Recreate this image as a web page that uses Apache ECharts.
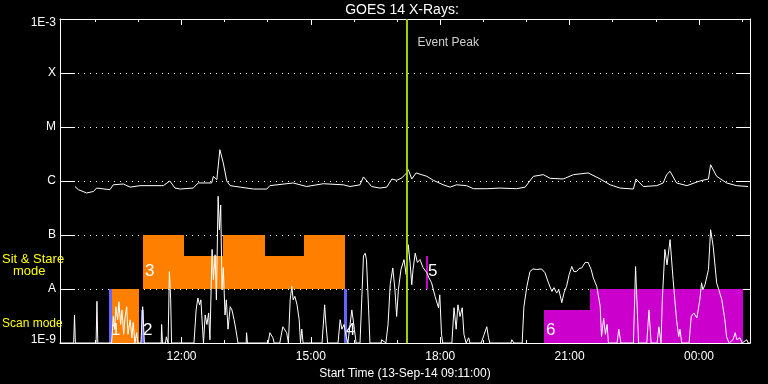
<!DOCTYPE html>
<html><head><meta charset="utf-8">
<script src="https://cdn.jsdelivr.net/npm/echarts@6/dist/echarts.min.js"></script>
<style>html,body{margin:0;padding:0;background:#000}#c{width:768px;height:384px}</style>
</head><body><div id="c"></div>
<script>
// time in hours since 13-Sep-14 00:00, flux in W/m^2
const xMin = 9 + 11 / 60;
const xMax = 25 + 11 / 60;
const majorHours = [12, 15, 18, 21, 24];
const minorHours = [10, 11, 13, 14, 16, 17, 19, 20, 22, 23, 25];
const yLabels = ['1E-9', 'A', 'B', 'C', 'M', 'X', '1E-3'];
const titleText = 'GOES 14 X-Rays:';
const axisName = 'Start Time (13-Sep-14 09:11:00)';
const eventPeak = 17.23;
const eventLabelLevel = 3.7e-4;

// long-wavelength channel
const goesLong = [[9.53,7.9e-7],[9.61,6.9e-7],[9.80,6.0e-7],[9.96,6.4e-7],[10.03,7.4e-7],[10.34,6.9e-7],[10.42,8.5e-7],[10.65,8.8e-7],[10.81,7.7e-7],[11.04,8.2e-7],[11.58,8.2e-7],[11.73,1.0e-6],[11.85,7.4e-7],[11.97,7.1e-7],[12.27,7.4e-7],[12.39,9.2e-7],[12.70,9.2e-7],[12.74,1.22e-6],[12.82,1.06e-6],[12.89,3.8e-6],[12.97,2.15e-6],[13.05,1.0e-6],[13.13,8.2e-7],[13.36,7.7e-7],[13.67,7.1e-7],[13.98,7.1e-7],[14.05,8.2e-7],[14.59,9.2e-7],[14.90,7.9e-7],[15.29,8.9e-7],[15.75,8.5e-7],[15.91,7.9e-7],[16.14,8.5e-7],[16.22,1.19e-6],[16.33,9.4e-7],[16.41,7.9e-7],[16.60,7.4e-7],[16.76,7.7e-7],[16.88,1.09e-6],[16.99,1.03e-6],[17.11,1.14e-6],[17.22,1.41e-6],[17.26,1.62e-6],[17.34,1.09e-6],[17.44,1.41e-6],[17.69,1.22e-6],[17.84,1.03e-6],[18.07,8.5e-7],[18.23,7.7e-7],[18.38,8.5e-7],[18.61,8.2e-7],[18.77,7.2e-7],[19.08,7.2e-7],[19.39,7.4e-7],[19.77,7.2e-7],[19.97,7.7e-7],[20.16,1.22e-6],[20.39,1.31e-6],[20.55,1.12e-6],[20.85,1.09e-6],[21.09,1.31e-6],[21.43,1.41e-6],[21.71,1.09e-6],[21.94,8.5e-7],[22.17,7.4e-7],[22.48,7.1e-7],[22.54,1.09e-6],[22.71,7.9e-7],[23.02,8.2e-7],[23.17,9.2e-7],[23.25,1.31e-6],[23.33,1.51e-6],[23.48,9.2e-7],[23.72,8.2e-7],[24.02,1.0e-6],[24.22,1.09e-6],[24.27,2.0e-6],[24.41,1.22e-6],[24.64,9.2e-7],[24.87,8.2e-7],[25.14,7.9e-7]];

// short-wavelength channel
const goesShort = [[9.18,1e-9],[9.50,1e-9],[9.52,3.3e-9],[9.54,1e-9],
[10.02,1e-9],[10.04,5.9e-9],[10.06,1e-9],
[10.38,1e-9],[10.42,3.1e-9],[10.45,1.8e-9],[10.48,4.7e-9],[10.52,2.7e-9],[10.55,5.8e-9],[10.59,2.2e-9],[10.62,4.1e-9],[10.66,1.45e-9],[10.69,2.9e-9],[10.73,4.7e-9],[10.76,1.45e-9],[10.81,2.7e-9],[10.85,1.25e-9],[10.88,2.4e-9],[10.92,1e-9],[10.96,1.55e-9],[10.99,1e-9],
[11.06,1e-9],[11.10,4.7e-9],[11.12,2.2e-9],[11.14,1e-9],
[11.53,1e-9],[11.54,2.2e-9],[11.56,1e-9],
[11.63,1e-9],[11.65,1.3e-9],[11.69,1e-9],[11.72,2.1e-8],[11.75,6.3e-9],[11.77,1e-9],
[12.29,1e-9],[12.34,4.1e-9],[12.38,6.8e-9],[12.42,5.1e-9],[12.45,6.3e-9],[12.49,1.8e-9],[12.51,1e-9],[12.55,3.3e-9],[12.59,2.2e-9],[12.63,3.6e-9],[12.66,1.15e-9],[12.71,5.4e-8],[12.74,1.5e-8],[12.78,4.3e-8],[12.81,6.3e-9],[12.85,5.2e-7],[12.88,1.25e-7],[12.91,3.6e-7],[12.94,9.7e-9],[12.97,2.5e-8],[13.01,3.3e-9],[13.04,6.3e-9],[13.08,1.8e-9],[13.13,4.7e-9],[13.17,4.1e-9],[13.22,2.7e-9],[13.26,1.8e-9],[13.31,1e-9],
[13.50,1e-9],[13.51,1.55e-9],[13.53,1e-9],
[14.01,1e-9],[14.05,1.55e-9],[14.12,1.25e-9],[14.15,1e-9],
[14.28,1e-9],[14.35,2.0e-9],[14.44,1.55e-9],[14.48,1e-9],[14.52,6.3e-9],[14.56,1.12e-8],[14.59,6.3e-9],[14.63,7.3e-9],[14.68,5.1e-9],[14.73,2.7e-9],[14.76,1e-9],[14.79,1.8e-9],[14.82,1e-9],
[15.26,1e-9],[15.32,5.1e-9],[15.35,2.2e-9],[15.39,1e-9],
[15.63,1e-9],[15.68,2.7e-9],[15.72,1.8e-9],[15.77,2.2e-9],[15.82,1.3e-9],[15.86,1e-9],[15.91,2.2e-9],[15.95,4.1e-9],[16.01,1.8e-9],[16.05,1e-9],
[16.14,1e-9],[16.19,9.7e-9],[16.22,4.1e-8],[16.26,4.6e-8],[16.29,3.5e-8],[16.34,4.1e-9],[16.37,1e-9],
[16.63,1e-9],[16.64,1.15e-9],[16.74,1e-9],[16.79,2.2e-9],[16.84,1.2e-8],[16.90,2.45e-8],[16.95,9.7e-9],[16.99,3.1e-9],[17.03,9.7e-9],[17.09,2.3e-8],[17.16,3.5e-8],[17.21,1.85e-8],[17.26,6.6e-8],[17.30,3.1e-8],[17.34,1.2e-8],[17.37,2.3e-8],[17.42,4.6e-8],[17.47,3.1e-8],[17.53,3.5e-8],[17.60,2.5e-8],[17.69,2.0e-8],[17.74,1.6e-8],[17.80,1.3e-8],[17.88,7.3e-9],[17.96,4.5e-9],[17.99,7.8e-9],[18.03,1.45e-9],[18.06,1e-9],
[18.27,1e-9],[18.32,4.5e-9],[18.37,1.8e-9],[18.41,5.1e-9],[18.46,3.1e-9],[18.51,4.5e-9],[18.55,1.45e-9],[18.60,1e-9],[18.66,1.25e-9],[18.69,1e-9],
[18.95,1e-9],[19.02,1.45e-9],[19.08,2.0e-9],[19.12,1.25e-9],[19.15,1e-9],
[19.64,1e-9],[19.66,1.15e-9],[19.71,1e-9],
[19.90,1e-9],[19.94,4.7e-9],[20.01,1.12e-8],[20.08,2.1e-8],[20.15,2.35e-8],[20.24,2.3e-8],[20.35,2.35e-8],[20.43,2.0e-8],[20.51,1.3e-8],[20.59,9.0e-9],[20.64,1.06e-8],[20.70,8.4e-9],[20.75,9.7e-9],[20.82,5.6e-9],[20.87,8.5e-9],[20.93,1.12e-8],[20.99,1.85e-8],[21.05,2.6e-8],[21.10,2.1e-8],[21.16,2.1e-8],[21.22,2.4e-8],[21.28,2.45e-8],[21.36,3.1e-8],[21.43,3.1e-8],[21.50,2.3e-8],[21.55,1.6e-8],[21.63,1.12e-8],[21.71,4.7e-9],[21.74,1.3e-9],[21.79,2.9e-9],[21.83,1.45e-9],[21.87,2.2e-9],[21.90,1e-9],
[22.10,1e-9],[22.14,1.8e-9],[22.19,1e-9],
[22.48,1e-9],[22.53,2.6e-8],[22.56,6.3e-9],[22.60,1e-9],
[22.79,1e-9],[22.84,4.1e-9],[22.89,1e-9],
[23.03,1e-9],[23.07,2.0e-9],[23.12,1e-9],[23.15,6.3e-9],[23.21,5.4e-8],[23.26,2.8e-8],[23.33,8.2e-8],[23.40,1.5e-8],[23.48,2.7e-9],[23.53,1.3e-9],[23.56,1.8e-9],[23.60,1e-9],
[23.77,1e-9],[23.82,3.1e-9],[23.88,3.6e-9],[23.95,2.9e-9],[24.02,6.3e-9],[24.06,1.3e-8],[24.09,9.7e-9],[24.14,1.2e-8],[24.22,2.3e-8],[24.27,1.25e-7],[24.33,6.2e-8],[24.41,1.3e-8],[24.46,9.7e-9],[24.53,6.3e-9],[24.60,2.7e-9],[24.64,1.3e-9],[24.70,1e-9],[24.79,1.15e-9],[24.84,1.55e-9],[24.88,1.15e-9],[24.95,1.25e-9],[25.00,1e-9],[25.11,1.15e-9],[25.14,1e-9],[25.18,1e-9]];

// observation blocks
const blockStart = [10.32, 10.39, 11.05, 11.11, 12.06, 12.96, 13.94, 14.84, 15.78, 17.66, 20.41, 21.47];
const blockEnd   = [10.38, 11.01, 11.12, 12.06, 12.96, 13.94, 14.84, 15.79, 15.83, 17.69, 21.47, 25.01];
const blockLow   = [1e-9, 1e-9, 1e-9, 1e-8, 1e-8, 1e-8, 1e-8, 1e-8, 1e-9, 1e-8, 1e-9, 1e-9];
const blockHigh  = [1e-8, 1e-8, 4.17e-9, 1e-7, 4.17e-8, 1e-7, 4.17e-8, 1e-7, 1e-8, 4.17e-8, 4.17e-9, 1e-8];
const blockColor = ['#6464ff', '#ff8000', '#6464ff', '#ff8000', '#ff8000', '#ff8000', '#ff8000', '#ff8000', '#6464ff', '#cc00cc', '#cc00cc', '#cc00cc'];
const blockLabel = ['1', '', '2', '3', '', '', '', '', '4', '5', '6', ''];
const blockLabelLevel = [1.7e-9, 0, 1.7e-9, 2.1e-8, 0, 0, 0, 0, 1.7e-9, 2.1e-8, 1.7e-9, 0];

const FONT = 'Liberation Sans';
const W = '#ffffff';

function hourLabel(h) {
  const hh = ((Math.round(h) % 24) + 24) % 24;
  return (hh < 10 ? '0' : '') + hh + ':00';
}
function xAxisDef(pos, ticks, len, showLine, withLabels) {
  const a = {
    type: 'value', min: xMin, max: xMax, position: pos,
    axisLine: { show: showLine, lineStyle: { color: W, width: 1 } },
    axisTick: { show: true, inside: true, length: len, customValues: ticks, lineStyle: { color: W } },
    axisLabel: { show: false },
    splitLine: { show: false }
  };
  if (withLabels) {
    a.axisLabel = { show: true, customValues: majorHours, formatter: hourLabel, color: W,
      fontFamily: FONT, fontSize: 12, margin: 8 };
    a.name = axisName;
    a.nameLocation = 'middle';
    a.nameGap = 19;
    a.nameTextStyle = { color: W, fontFamily: FONT, fontSize: 12 };
  }
  return a;
}

const blockData = blockStart.map((s, i) => [s, blockEnd[i], blockLow[i], blockHigh[i]]);

const chart = echarts.init(document.getElementById('c'), null, { renderer: 'canvas', width: 768, height: 384 });
chart.setOption({
  backgroundColor: '#000000',
  animation: false,
  grid: { left: 60, right: 18, top: 19, bottom: 41, containLabel: false, outerBoundsMode: 'none' },
  graphic: [
    { type: 'text', x: 402, y: 10, style: { text: titleText, fill: W, font: '14px "Liberation Sans"', align: 'center', verticalAlign: 'middle' } },
    { type: 'text', x: 2, y: 259, style: { text: 'Sit & Stare', fill: '#ffff00', font: '13px "Liberation Sans"', verticalAlign: 'middle' } },
    { type: 'text', x: 13, y: 271, style: { text: 'mode', fill: '#ffff00', font: '13px "Liberation Sans"', verticalAlign: 'middle' } },
    { type: 'text', x: 2, y: 324, style: { text: 'Scan mode', fill: '#ffff00', font: '12px "Liberation Sans"', verticalAlign: 'middle' } }
  ],
  xAxis: [
    xAxisDef('bottom', majorHours, 6, true, true),
    xAxisDef('top', majorHours, 6, true, false),
    xAxisDef('bottom', minorHours, 3, false, false),
    xAxisDef('top', minorHours, 3, false, false)
  ],
  yAxis: [
    {
      type: 'log', logBase: 10, min: 1e-9, max: 1e-3, position: 'left',
      axisLine: { show: true, lineStyle: { color: W } },
      axisTick: { show: true, inside: true, length: 15, lineStyle: { color: W } },
      axisLabel: {
        color: W, fontFamily: FONT, fontSize: 12, margin: 4,
        formatter: function (v) {
          const i = Math.round(Math.log10(v)) + 9;
          if (i === 0) return '{lo|' + yLabels[i] + '}';
          if (i === 6) return '{hi|' + yLabels[i] + '}';
          return yLabels[i];
        },
        rich: {
          lo: { color: W, fontFamily: FONT, fontSize: 12, padding: [0, 0, 7, 0] },
          hi: { color: W, fontFamily: FONT, fontSize: 12, padding: [8, 0, 0, 0] }
        }
      },
      splitLine: { show: true, lineStyle: { color: W, width: 1, type: [1, 5] } }
    },
    {
      type: 'log', logBase: 10, min: 1e-9, max: 1e-3, position: 'right',
      axisLine: { show: true, lineStyle: { color: W } },
      axisTick: { show: true, inside: true, length: 14, lineStyle: { color: W } },
      axisLabel: { show: false },
      splitLine: { show: false }
    }
  ],
  series: [
    {
      type: 'custom', name: 'modes', xAxisIndex: 0, yAxisIndex: 0, z: 2,
      data: blockData, encode: { x: [0, 1], y: [2, 3] }, silent: true,
      renderItem: function (params, api) {
        const i = params.dataIndex;
        const tl = api.coord([api.value(0), api.value(3)]);
        const br = api.coord([api.value(1), api.value(2)]);
        const x0 = Math.round(tl[0]);
        const x1 = Math.max(Math.round(br[0]), x0 + 2);
        const y0 = Math.round(tl[1]);
        const y1 = Math.round(br[1]);
        const children = [{ type: 'rect', shape: { x: x0, y: y0, width: x1 - x0, height: y1 - y0 }, style: { fill: blockColor[i] } }];
        if (blockLabel[i]) {
          const lp = api.coord([api.value(0), blockLabelLevel[i]]);
          children.push({ type: 'text', x: x0 + 2, y: lp[1], z2: 10,
            style: { text: blockLabel[i], fill: W, font: '17px "Liberation Sans"', verticalAlign: 'middle' } });
        }
        return { type: 'group', children: children };
      }
    },
    {
      type: 'line', name: 'short', data: goesShort, xAxisIndex: 0, yAxisIndex: 0, z: 3,
      showSymbol: false, symbol: 'none', lineStyle: { color: W, width: 1 }, silent: true
    },
    {
      type: 'line', name: 'long', data: goesLong, xAxisIndex: 0, yAxisIndex: 0, z: 3,
      showSymbol: false, symbol: 'none', lineStyle: { color: W, width: 1 }, silent: true
    },
    {
      type: 'scatter', name: 'event', xAxisIndex: 0, yAxisIndex: 0, z: 5,
      data: [[eventPeak, eventLabelLevel]], symbolSize: 1, itemStyle: { color: 'rgba(0,0,0,0)' },
      label: { show: true, position: 'right', distance: 10, formatter: 'Event Peak', color: W, fontFamily: FONT, fontSize: 12 },
      markLine: {
        silent: true, symbol: 'none', animation: false,
        label: { show: false },
        lineStyle: { color: '#a0d000', width: 2, type: 'solid' },
        data: [{ xAxis: eventPeak }]
      }
    }
  ]
});
</script></body></html>
